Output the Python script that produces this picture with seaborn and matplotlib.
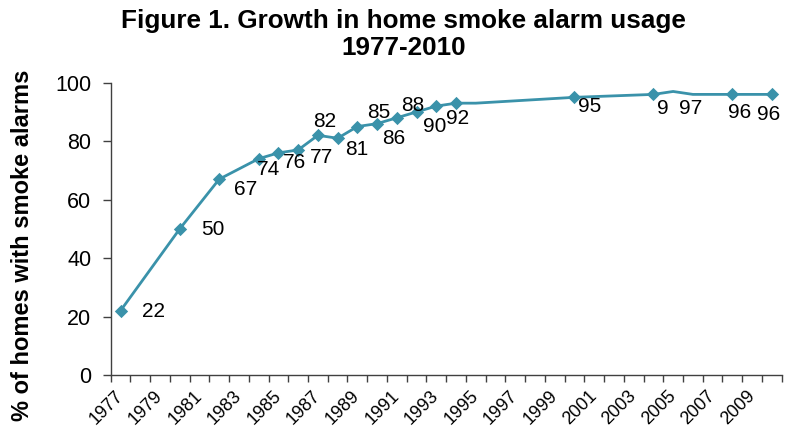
import numpy as np
import pandas as pd
import matplotlib
matplotlib.use("Agg")
import matplotlib.pyplot as plt
import matplotlib.transforms as mtransforms
from matplotlib.path import Path
from matplotlib.ticker import FixedLocator
import seaborn as sns

# Share of homes with at least one smoke alarm, 1977-2010
years = [1977, 1980, 1982, 1984, 1985, 1986, 1987, 1988, 1989, 1990, 1991,
         1992, 1993, 1994, 1995, 2000, 2004, 2005, 2006, 2008, 2010]
pct = [22, 50, 67, 74, 76, 77, 82, 81, 85, 86, 88,
       90, 92, 93, 93, 95, 96, 97, 96, 96, 96]

# Years drawn with a diamond marker (survey years)
marked_years = [1977, 1980, 1982, 1984, 1985, 1986, 1987, 1988, 1989, 1990,
                1991, 1992, 1993, 1994, 2000, 2004, 2008, 2010]
# Years whose value is printed next to the line
labelled_years = [1977, 1980, 1982, 1984, 1985, 1986, 1987, 1988, 1989, 1990,
                  1991, 1992, 1993, 2000, 2004, 2005, 2008, 2010]

tick_years = list(range(1977, 2010, 2))
y_ticks = [0, 20, 40, 60, 80, 100]

TEAL = "#3A92AA"
AXIS_GREY = "#404040"

# Value-label placement, in pixels (right, down) from the point
label_offsets = {
    1977: (33, 1), 1980: (33, 1), 1982: (26, 10), 1984: (10, 10.5),
    1985: (16.5, 10), 1986: (23.5, 8), 1987: (7, -13.5), 1988: (19.5, 11),
    1989: (21.5, -14.5), 1990: (16.5, 14.5), 1991: (15.5, -12.5),
    1992: (18, 15), 1993: (21.5, 12.5), 2000: (15, 9.5), 2004: (15.5, 14),
    2005: (17.5, 17), 2008: (7.5, 18), 2010: (-3.5, 20),
}


def left_masked_box(x0, y0, width, height, mutation_size):
    """White label background that reaches a little to the left of the text."""
    ext = 0.55 * mutation_size
    verts = [(x0 - ext, y0), (x0 + width, y0), (x0 + width, y0 + height),
             (x0 - ext, y0 + height), (x0 - ext, y0)]
    codes = [Path.MOVETO, Path.LINETO, Path.LINETO, Path.LINETO, Path.CLOSEPOLY]
    return Path(verts, codes)


sns.set_theme(style="ticks")
plt.rcParams["font.family"] = ["Liberation Sans", "DejaVu Sans"]
plt.rcParams["text.color"] = "black"
plt.rcParams["axes.labelcolor"] = "black"

fig = plt.figure(figsize=(7.86, 4.33), dpi=100)
ax = fig.add_axes([0.1408, 0.1339, 0.8537, 0.6751])

df = pd.DataFrame({"year": years, "pct": pct})
sns.lineplot(data=df, x="year", y="pct", color=TEAL, linewidth=2, ax=ax)
marked = df[df["year"].isin(marked_years)]
sns.scatterplot(data=marked, x="year", y="pct", marker="D", s=46, color=TEAL,
                edgecolor=TEAL, linewidth=0, ax=ax, zorder=3)

for yr in labelled_years:
    val = pct[years.index(yr)]
    dx, dy = label_offsets[yr]
    kw = {}
    if yr == 2005:
        kw["bbox"] = dict(boxstyle=left_masked_box, fc="white", ec="none")
    ax.annotate(f"{val}", (yr, val), xytext=(dx, -dy), textcoords="offset pixels",
                ha="center", va="center", fontsize=15, color="black", **kw)

ax.set_xlim(1976.5, 2010.5)
ax.set_ylim(0, 100)
ax.set_yticks(y_ticks)
ax.set_xticks(tick_years)
ax.set_xticklabels([str(y) for y in tick_years], rotation=45, ha="right", va="top")
ax.xaxis.set_minor_locator(FixedLocator(np.arange(1976.5, 2011, 1.0)))

ax.tick_params(axis="x", which="major", length=0, pad=9, labelsize=13,
               labelcolor="black")
ax.tick_params(axis="x", which="minor", length=5, width=1, direction="out",
               color=AXIS_GREY)
ax.tick_params(axis="y", length=6, width=1, direction="out", pad=8,
               labelsize=15.5, color=AXIS_GREY, labelcolor="black")

# nudge the slanted year labels so their ends sit under the category centres
shift = mtransforms.ScaledTranslation(6 / 100, 0, fig.dpi_scale_trans)
for lbl in ax.get_xticklabels():
    lbl.set_transform(lbl.get_transform() + shift)

sns.despine(ax=ax)
for side in ("left", "bottom"):
    ax.spines[side].set_color(AXIS_GREY)
    ax.spines[side].set_linewidth(1)
ax.set_xlabel("")
ax.set_ylabel("")

fig.text(0.513, 1 - 9 / 433, "Figure 1. Growth in home smoke alarm usage\n1977-2010",
         ha="center", va="top", fontsize=18.8, fontweight="bold", linespacing=1.15,
         color="black")
fig.text(23 / 786, 1 - 245 / 433, "% of homes with smoke alarms", rotation=90,
         ha="center", va="center", fontsize=17, fontweight="bold", color="black")

fig.savefig("out.png", dpi=100, facecolor="white")
